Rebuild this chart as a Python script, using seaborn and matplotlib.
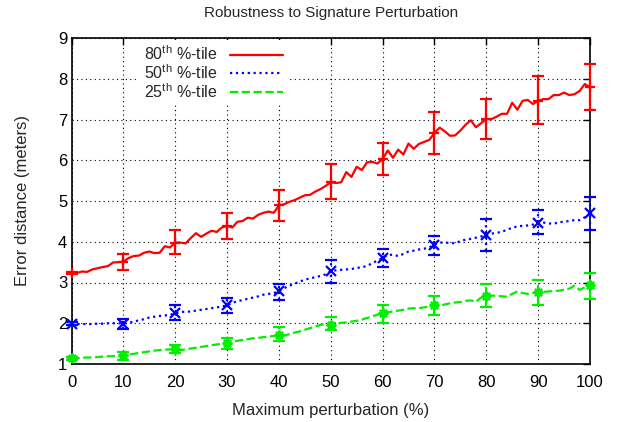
import numpy as np
import pandas as pd
import matplotlib
matplotlib.use("Agg")
import matplotlib.pyplot as plt
import seaborn as sns
from matplotlib.lines import Line2D

# ---------------- data ----------------
perturbation = list(range(0, 101))

p80 = [3.24, 3.23, 3.27, 3.26, 3.32, 3.35, 3.38, 3.40, 3.49, 3.50,
       3.51, 3.60, 3.65, 3.66, 3.73, 3.76, 3.72, 3.73, 3.89, 3.86,
       3.98, 3.98, 3.96, 4.09, 4.21, 4.12, 4.20, 4.27, 4.24, 4.35,
       4.39, 4.35, 4.49, 4.51, 4.59, 4.57, 4.66, 4.71, 4.74, 4.71,
       4.89, 4.92, 4.98, 5.02, 5.08, 5.14, 5.15, 5.23, 5.29, 5.37,
       5.46, 5.44, 5.46, 5.71, 5.59, 5.84, 5.76, 5.95, 5.96, 5.92,
       6.03, 6.24, 6.06, 6.26, 6.14, 6.41, 6.28, 6.40, 6.45, 6.50,
       6.67, 6.80, 6.71, 6.60, 6.61, 6.73, 6.87, 6.98, 6.81, 6.91,
       7.01, 7.01, 7.07, 7.14, 7.14, 7.41, 7.24, 7.46, 7.48, 7.38,
       7.46, 7.50, 7.50, 7.60, 7.60, 7.66, 7.60, 7.62, 7.70, 7.87,
       7.79]

p50 = [1.99, 1.98, 1.98, 1.98, 1.98, 1.99, 1.99, 2.00, 2.00, 2.00,
       1.99, 2.01, 2.04, 2.07, 2.10, 2.14, 2.16, 2.18, 2.19, 2.21,
       2.24, 2.28, 2.28, 2.29, 2.31, 2.33, 2.35, 2.37, 2.39, 2.41,
       2.44, 2.50, 2.54, 2.57, 2.60, 2.63, 2.66, 2.70, 2.72, 2.74,
       2.79, 2.86, 2.92, 2.97, 3.02, 3.07, 3.10, 3.13, 3.16, 3.20,
       3.28, 3.30, 3.31, 3.32, 3.33, 3.36, 3.37, 3.41, 3.47, 3.54,
       3.60, 3.68, 3.68, 3.65, 3.70, 3.76, 3.78, 3.81, 3.83, 3.86,
       3.93, 3.98, 3.98, 3.97, 3.96, 4.02, 4.05, 4.07, 4.10, 4.13,
       4.17, 4.20, 4.22, 4.24, 4.30, 4.34, 4.38, 4.39, 4.40, 4.42,
       4.47, 4.47, 4.45, 4.44, 4.48, 4.49, 4.51, 4.53, 4.53, 4.60,
       4.70]

p25 = [1.14, 1.14, 1.15, 1.16, 1.16, 1.17, 1.18, 1.19, 1.19, 1.20,
       1.21, 1.23, 1.25, 1.27, 1.29, 1.31, 1.33, 1.34, 1.35, 1.36,
       1.37, 1.34, 1.36, 1.38, 1.40, 1.42, 1.44, 1.46, 1.48, 1.50,
       1.52, 1.55, 1.57, 1.59, 1.61, 1.63, 1.64, 1.66, 1.67, 1.69,
       1.71, 1.70, 1.73, 1.77, 1.80, 1.84, 1.88, 1.92, 1.96, 1.98,
       1.95, 1.98, 2.01, 2.02, 2.04, 2.06, 2.09, 2.13, 2.17, 2.21,
       2.25, 2.27, 2.29, 2.31, 2.33, 2.36, 2.37, 2.37, 2.39, 2.41,
       2.46, 2.44, 2.46, 2.49, 2.51, 2.52, 2.55, 2.56, 2.53, 2.63,
       2.68, 2.68, 2.67, 2.66, 2.65, 2.72, 2.78, 2.74, 2.72, 2.74,
       2.76, 2.77, 2.78, 2.79, 2.80, 2.82, 2.85, 2.92, 2.82, 2.88,
       2.93]

err_x = [0, 10, 20, 30, 40, 50, 60, 70, 80, 90, 100]
p80_err_y = [3.24, 3.51, 3.98, 4.39, 4.89, 5.46, 6.03, 6.67, 7.01, 7.46, 7.79]
p80_err_hi = [3.26, 3.70, 4.29, 4.70, 5.26, 5.90, 6.42, 7.18, 7.51, 8.06, 8.37]
p80_err_lo = [3.22, 3.31, 3.71, 4.06, 4.51, 5.04, 5.65, 6.16, 6.53, 6.90, 7.23]
p50_err_y = [1.99, 1.99, 2.24, 2.44, 2.79, 3.28, 3.60, 3.93, 4.17, 4.47, 4.70]
p50_err_hi = [2.02, 2.11, 2.44, 2.63, 2.97, 3.56, 3.82, 4.15, 4.55, 4.77, 5.10]
p50_err_lo = [1.96, 1.87, 2.07, 2.25, 2.56, 2.98, 3.39, 3.68, 3.78, 4.19, 4.28]
p25_err_y = [1.14, 1.21, 1.37, 1.52, 1.71, 1.95, 2.25, 2.46, 2.68, 2.76, 2.93]
p25_err_hi = [1.17, 1.30, 1.46, 1.65, 1.90, 2.15, 2.46, 2.68, 2.97, 3.05, 3.23]
p25_err_lo = [1.11, 1.10, 1.26, 1.38, 1.57, 1.83, 2.01, 2.20, 2.41, 2.46, 2.60]

x_ticks = [0, 10, 20, 30, 40, 50, 60, 70, 80, 90, 100]
y_ticks = [1, 2, 3, 4, 5, 6, 7, 8, 9]

labels = ["80$^{\\mathrm{th}}$ %-tile", "50$^{\\mathrm{th}}$ %-tile",
          "25$^{\\mathrm{th}}$ %-tile"]
colors = ["#ff0000", "#0000ff", "#00ee00"]
styles = ["-", ":", "--"]
markers = ["+", "x", (8, 2, 0)]

# ---------------- plot ----------------
sns.set_theme(style="white")
plt.rcParams["font.family"] = ["Liberation Sans", "DejaVu Sans"]
plt.rcParams["mathtext.fontset"] = "custom"
plt.rcParams["mathtext.rm"] = "Liberation Sans"

W, H = 619, 422
fig = plt.figure(figsize=(W / 100, H / 100), dpi=100)
ax = fig.add_axes([71.5 / W, 1 - 364 / H, (590 - 71.5) / W, (364 - 38) / H])

df = pd.DataFrame({
    "x": perturbation * 3,
    "y": p80 + p50 + p25,
    "series": [labels[0]] * 101 + [labels[1]] * 101 + [labels[2]] * 101,
})

for i, lab in enumerate(labels):
    sub = df[df["series"] == lab]
    sns.lineplot(data=sub, x="x", y="y", ax=ax, color=colors[i],
                 linestyle=styles[i], linewidth=1.6, legend=False)

err_sets = [(p80_err_y, p80_err_lo, p80_err_hi),
            (p50_err_y, p50_err_lo, p50_err_hi),
            (p25_err_y, p25_err_lo, p25_err_hi)]
for i, (yy, lo, hi) in enumerate(err_sets):
    yy = np.array(yy); lo = np.array(lo); hi = np.array(hi)
    cont = ax.errorbar(err_x, yy, yerr=[yy - lo, hi - yy], fmt="none",
                       ecolor=colors[i], elinewidth=1.6, capsize=4,
                       capthick=1.6, clip_on=False, zorder=4)
    for bc in cont[2]:
        bc.set_linestyle(styles[i])
    ax.plot(err_x, yy, linestyle="none", marker=markers[i], color=colors[i],
            markersize=7, markeredgewidth=1.6, clip_on=False, zorder=5)

ax.set_xlim(0, 100)
ax.set_ylim(1, 9)
ax.set_xticks(x_ticks)
ax.set_yticks(y_ticks)
ax.tick_params(direction="in", length=5, width=1, top=True, right=True,
               labelsize=12, colors="black")
ax.tick_params(axis="x", pad=8)
ax.tick_params(axis="y", pad=3)
ax.grid(True, color="black", linestyle=(0, (1, 3)), linewidth=0.8)
for s in ax.spines.values():
    s.set_color("black")
    s.set_linewidth(1.2)

ax.set_title("Robustness to Signature Perturbation", fontsize=11, pad=15)
ax.set_xlabel("Maximum perturbation (%)", fontsize=12, labelpad=9)
ax.set_ylabel("Error distance (meters)", fontsize=12, labelpad=20)

handles = [Line2D([], [], color=colors[i], linestyle=styles[i], linewidth=1.6)
           for i in range(3)]
leg = ax.legend(handles, labels, loc="upper left", bbox_to_anchor=(0.13, 0.995),
                frameon=True, markerfirst=False, fontsize=11.5, handlelength=3.3,
                labelspacing=0.0, handletextpad=0.8, borderaxespad=0.0,
                borderpad=0.3, fancybox=False)
leg.get_frame().set_facecolor("white")
leg.get_frame().set_edgecolor("none")
leg.get_frame().set_alpha(1.0)
leg.set_zorder(10)
for t in leg.get_texts():
    t.set_ha("right")

fig.savefig("out.png", dpi=100)
